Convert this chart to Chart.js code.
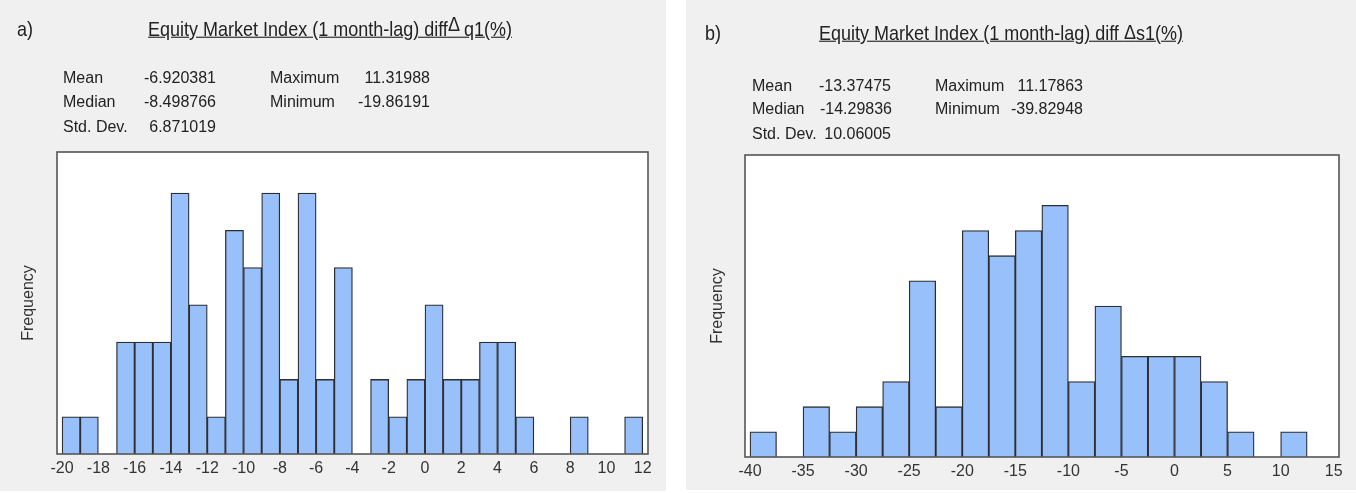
<!DOCTYPE html>
<html>
<head>
<meta charset="utf-8">
<script src="https://cdn.jsdelivr.net/npm/chart.js@4/dist/chart.umd.min.js"></script>
<style>
  body { margin: 0; background: #fff; width: 1356px; height: 493px; position: relative; overflow: hidden;
         font-family: 'Liberation Sans', Arial, sans-serif; color: #222; }
  .panel { position: absolute; top: 0; background: #f0f0f0; }
  .panel canvas { position: absolute; left: 0; top: 0; }
  .txt { position: absolute; white-space: nowrap; font-size: 16px; line-height: 16px; }
  .title { font-size: 18px; line-height: 18px; text-decoration: underline; transform: translateX(-50%) scaleY(1.1); }
  .tag { font-size: 18px; line-height: 18px; transform: scaleY(1.1); }
  .val { text-align: right; }
</style>
</head>
<body>

<div class="panel" id="panelA" style="left:0; width:666px; height:491px;">
  <canvas id="chartA"></canvas>
  <div class="txt tag" style="left:17px; top:20px;">a)</div>
  <div class="txt title" style="left:330px; top:20px;">Equity Market Index (1 month-lag) diff<span style="position:relative; top:-4px;">&Delta;</span> q1(%)</div>
  <div class="txt" style="left:63px; top:70px;">Mean</div>
  <div class="txt" style="left:63px; top:94px;">Median</div>
  <div class="txt" style="left:63px; top:119px;">Std. Dev.</div>
  <div class="txt val" style="right:450px; top:70px;">-6.920381</div>
  <div class="txt val" style="right:450px; top:94px;">-8.498766</div>
  <div class="txt val" style="right:450px; top:119px;">6.871019</div>
  <div class="txt" style="left:270px; top:70px;">Maximum</div>
  <div class="txt" style="left:270px; top:94px;">Minimum</div>
  <div class="txt val" style="right:236px; top:70px;">11.31988</div>
  <div class="txt val" style="right:236px; top:94px;">-19.86191</div>
</div>

<div class="panel" id="panelB" style="left:686px; width:670px; height:490px;">
  <canvas id="chartB"></canvas>
  <div class="txt tag" style="left:19px; top:24px;">b)</div>
  <div class="txt title" style="left:315px; top:24px;">Equity Market Index (1 month-lag) diff <span style="position:relative; top:-1px;">&Delta;</span>s1(%)</div>
  <div class="txt" style="left:66px; top:78px;">Mean</div>
  <div class="txt" style="left:66px; top:101px;">Median</div>
  <div class="txt" style="left:66px; top:126px;">Std. Dev.</div>
  <div class="txt val" style="right:465px; top:78px;">-13.37475</div>
  <div class="txt val" style="right:464px; top:101px;">-14.29836</div>
  <div class="txt val" style="right:465px; top:126px;">10.06005</div>
  <div class="txt" style="left:249px; top:78px;">Maximum</div>
  <div class="txt" style="left:249px; top:101px;">Minimum</div>
  <div class="txt val" style="right:273px; top:78px;">11.17863</div>
  <div class="txt val" style="right:273px; top:101px;">-39.82948</div>
</div>

<script>
// a) delta q1 : bins of width 1
const binsA = [-20, -19, -18, -17, -16, -15, -14, -13, -12, -11, -10, -9, -8, -7, -6, -5,
               -4, -3, -2, -1, 0, 1, 2, 3, 4, 5, 6, 7, 8, 9, 10, 11];
const countsA = [1, 1, 0, 3, 3, 3, 7, 4, 1, 6, 5, 7, 2, 7, 2, 5,
                 0, 2, 1, 2, 4, 2, 2, 3, 3, 1, 0, 0, 1, 0, 0, 1];
const ticksA = [-20, -18, -16, -14, -12, -10, -8, -6, -4, -2, 0, 2, 4, 6, 8, 10, 12];

// b) delta s1 : bins of width 2.5
const binsB = [-40, -37.5, -35, -32.5, -30, -27.5, -25, -22.5, -20, -17.5, -15, -12.5,
               -10, -7.5, -5, -2.5, 0, 2.5, 5, 7.5, 10, 12.5];
const countsB = [1, 0, 2, 1, 2, 3, 7, 2, 9, 8, 9, 10, 3, 6, 4, 4, 4, 3, 1, 0, 1, 0];
const ticksB = [-40, -35, -30, -25, -20, -15, -10, -5, 0, 5, 10, 15];

const barFill = '#98c0fb';
const barEdge = '#2e2e2e';

// white plot area + dark frame around it
const frame = {
  id: 'frame',
  beforeDatasetsDraw(chart) {
    const { ctx, chartArea: a } = chart;
    ctx.save();
    ctx.fillStyle = '#ffffff';
    ctx.fillRect(a.left, a.top, a.right - a.left, a.bottom - a.top);
    ctx.restore();
  },
  afterDatasetsDraw(chart) {
    const { ctx, chartArea: a } = chart;
    ctx.save();
    ctx.strokeStyle = '#555555';
    ctx.lineWidth = 1.6;
    ctx.strokeRect(a.left, a.top, a.right - a.left, a.bottom - a.top);
    ctx.restore();
  }
};

function makeHist(id, w, h, bins, counts, width, ticks, box) {
  const canvas = document.getElementById(id);
  canvas.width = w; canvas.height = h;
  canvas.style.width = w + 'px'; canvas.style.height = h + 'px';

  return new Chart(canvas, {
    type: 'bar',
    data: {
      datasets: [{
        data: bins.map((b, i) => ({ x: b + width / 2, y: counts[i] })),
        backgroundColor: barFill,
        borderColor: barEdge,
        borderWidth: 1.3,
        borderSkipped: 'bottom',
        barPercentage: 1,
        categoryPercentage: 1
      }]
    },
    options: {
      responsive: false,
      animation: false,
      layout: { padding: { top: box.top, right: box.right, bottom: 0, left: 0 } },
      plugins: { legend: { display: false }, tooltip: { enabled: false } },
      scales: {
        x: {
          type: 'linear',
          min: box.xmin,
          max: box.xmax,
          offset: false,
          grid: { display: false, drawTicks: false },
          border: { display: false },
          afterBuildTicks: s => { s.ticks = ticks.map(v => ({ value: v })); },
          afterFit: s => { s.height = box.xh; },
          ticks: {
            padding: 5,
            maxRotation: 0,
            autoSkip: false,
            color: '#333',
            font: { family: "'Liberation Sans', Arial", size: 16 },
            callback: v => String(v)
          }
        },
        y: {
          min: 0,
          max: box.ymax,
          grid: { display: false, drawTicks: false },
          border: { display: false },
          ticks: { display: false },
          afterFit: s => { s.width = box.yw; },
          title: {
            display: true,
            text: 'Frequency',
            color: '#333',
            font: { family: "'Liberation Sans', Arial", size: 16 },
            padding: { top: box.tpad, bottom: 0 }
          }
        }
      }
    },
    plugins: [frame]
  });
}

makeHist('chartA', 666, 491, binsA, countsA, 1, ticksA,
  { top: 152, right: 18, xh: 37, yw: 57, xmin: -20.28, xmax: 12.29, ymax: 8.1, tpad: 19 });
makeHist('chartB', 670, 490, binsB, countsB, 2.5, ticksB,
  { top: 155, right: 17, xh: 33, yw: 59, xmin: -40.47, xmax: 15.5, ymax: 12, tpad: 22 });
</script>
</body>
</html>
